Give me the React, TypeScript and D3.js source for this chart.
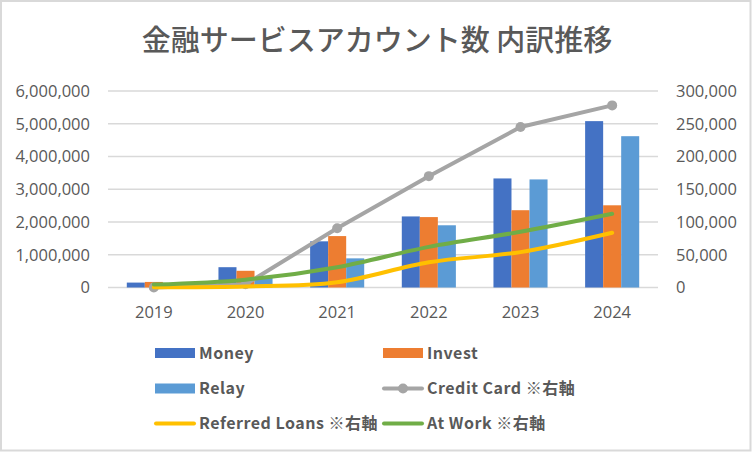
import * as d3 from "d3";

const years = ["2019", "2020", "2021", "2022", "2023", "2024"];

// bars, left axis
const money = [150000, 620000, 1410000, 2170000, 3330000, 5080000];
const invest = [170000, 510000, 1570000, 2150000, 2360000, 2510000];
const relay = [20000, 310000, 890000, 1900000, 3300000, 4620000];

// lines, right axis
const creditCard = [0, 5000, 90500, 170000, 245000, 278000];
const referredLoans = [500, 1500, 8000, 38500, 54000, 83500];
const atWork = [4500, 12000, 31000, 62000, 85000, 112500];

const leftTicks = [0, 1000000, 2000000, 3000000, 4000000, 5000000, 6000000];
const rightTicks = [0, 50000, 100000, 150000, 200000, 250000, 300000];

const title = "金融サービスアカウント数 内訳推移";

const W = 752;
const H = 452;
const plot = { left: 108, right: 658, top: 91, bottom: 287.5 };
const textColor = "#595959";
const font = "'Noto Sans CJK JP', 'Noto Sans', sans-serif";
const numFont = "'Open Sans', 'Noto Sans', sans-serif";

const barSeries = [
  { name: "Money", values: money, color: "#4472C4" },
  { name: "Invest", values: invest, color: "#ED7D31" },
  { name: "Relay", values: relay, color: "#5B9BD5" },
];

const lineSeries = [
  { name: "Credit Card ※右軸", values: creditCard, color: "#A5A5A5", marker: true, smooth: false },
  { name: "Referred Loans ※右軸", values: referredLoans, color: "#FFC000", marker: false, smooth: true },
  { name: "At Work ※右軸", values: atWork, color: "#70AD47", marker: false, smooth: true },
];

const fmt = d3.format(",");

export default function App() {
  const x = d3
    .scaleBand()
    .domain(years)
    .range([plot.left, plot.right])
    .paddingInner(0.41)
    .paddingOuter(0.205);
  const xs = d3
    .scaleBand()
    .domain(barSeries.map((s) => s.name))
    .range([0, x.bandwidth()]);
  const yL = d3.scaleLinear().domain([0, 6000000]).range([plot.bottom, plot.top]);
  const yR = d3.scaleLinear().domain([0, 300000]).range([plot.bottom, plot.top]);
  const cx = (y: string) => x(y) + x.bandwidth() / 2;

  const legendItems = [
    { name: "Money", color: "#4472C4", kind: "bar" },
    { name: "Invest", color: "#ED7D31", kind: "bar" },
    { name: "Relay", color: "#5B9BD5", kind: "bar" },
    { name: "Credit Card ※右軸", color: "#A5A5A5", kind: "marker" },
    { name: "Referred Loans ※右軸", color: "#FFC000", kind: "line" },
    { name: "At Work ※右軸", color: "#70AD47", kind: "line" },
  ];
  const legendX = [155, 383];
  const legendY = [353, 388.5, 423.5];

  return (
    <svg
      width={W}
      height={H}
      style={{ position: "absolute", left: 0, top: 0, background: "#fff" }}
    >
      <rect x={1} y={1} width={W - 2.5} height={H - 2.5} fill="#fff" stroke="#d9d9d9" strokeWidth={2} />
      <text
        x={377}
        y={51}
        textAnchor="middle"
        fontFamily={font}
        fontSize={29}
        fontWeight={500}
        fill={textColor}
      >
        {title}
      </text>

      {leftTicks.map((t) => (
        <g key={t}>
          <line
            x1={plot.left}
            x2={plot.right}
            y1={yL(t)}
            y2={yL(t)}
            stroke="#d9d9d9"
            strokeWidth={1.3}
          />
          <text
            x={90}
            y={yL(t)}
            dy="0.35em"
            textAnchor="end"
            fontFamily={numFont}
            fontSize={16.5}
            fill={textColor}
          >
            {fmt(t)}
          </text>
        </g>
      ))}
      {rightTicks.map((t) => (
        <text
          key={t}
          x={676}
          y={yR(t)}
          dy="0.35em"
          textAnchor="start"
          fontFamily={numFont}
          fontSize={16.5}
          fill={textColor}
        >
          {fmt(t)}
        </text>
      ))}
      {years.map((y) => (
        <text
          key={y}
          x={cx(y)}
          y={312}
          dy="0.35em"
          textAnchor="middle"
          fontFamily={numFont}
          fontSize={16.5}
          fill={textColor}
        >
          {y}
        </text>
      ))}

      {barSeries.map((s) => (
        <g key={s.name} fill={s.color}>
          {s.values.map((v, i) => (
            <rect
              key={years[i]}
              x={x(years[i]) + xs(s.name)}
              y={yL(v)}
              width={xs.bandwidth()}
              height={yL(0) - yL(v)}
            />
          ))}
        </g>
      ))}

      {lineSeries.map((s) => {
        const line = d3
          .line<number>()
          .x((_, i) => cx(years[i]))
          .y((v) => yR(v))
          .curve(s.smooth ? d3.curveCatmullRom.alpha(0.5) : d3.curveLinear);
        return (
          <g key={s.name}>
            <path
              d={line(s.values)}
              fill="none"
              stroke={s.color}
              strokeWidth={4}
              strokeLinecap="round"
              strokeLinejoin="round"
            />
            {s.marker &&
              s.values.map((v, i) => (
                <circle key={i} cx={cx(years[i])} cy={yR(v)} r={5} fill={s.color} />
              ))}
          </g>
        );
      })}

      {legendItems.map((d, i) => {
        const lx = legendX[i % 2];
        const ly = legendY[Math.floor(i / 2)];
        return (
          <g key={d.name} transform={`translate(${lx},${ly})`}>
            {d.kind === "bar" && (
              <rect x={0} y={-5} width={40} height={10} fill={d.color} />
            )}
            {d.kind !== "bar" && (
              <line x1={1} x2={39} y1={0} y2={0} stroke={d.color} strokeWidth={4} strokeLinecap="round" />
            )}
            {d.kind === "marker" && <circle cx={20} cy={0} r={5} fill={d.color} />}
            <text
              x={44}
              y={0}
              dy="0.35em"
              fontFamily={font}
              fontSize={16}
              fontWeight={700}
              letterSpacing={0.5}
              fill={textColor}
            >
              {d.name}
            </text>
          </g>
        );
      })}
    </svg>
  );
}
